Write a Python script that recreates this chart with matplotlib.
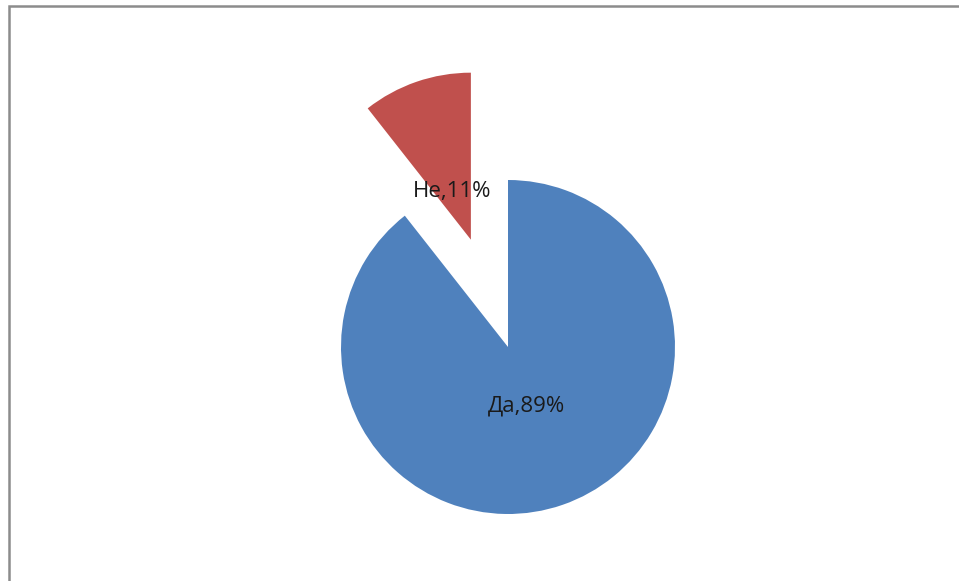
import matplotlib
matplotlib.use("Agg")
from matplotlib import pyplot as plt
from matplotlib.patches import Rectangle

labels = ["Да", "Не"]
values = [89.4, 10.6]
colors = ["#4F81BD", "#C0504D"]
explode = [0, 0.68]


def make_label():
    """Build 'name,pct%' label strings in slice order"""
    it = iter(labels)

    def fmt(pct):
        return f"{next(it)},{pct:.0f}%"
    return fmt


W, H = 959, 581
cx, cy, r = 508, 347, 167  # pie centre and radius in pixels

fig = plt.figure(figsize=(W / 100, H / 100), dpi=100)
ax = fig.add_axes([0, 0, 1, 1])

wedges, texts, autotexts = ax.pie(
    values, colors=colors, explode=explode, startangle=90,
    counterclock=False, autopct=make_label(), pctdistance=0.34,
    wedgeprops={"linewidth": 0},
    textprops={"fontsize": 16, "family": ["Open Sans", "DejaVu Sans"],
               "color": "#1a1a1a"})

# labels sit a little lower in the original
for t in autotexts:
    x, y = t.get_position()
    t.set_position((x, y - 0.03))

ax.set_aspect("auto")
ax.set_xlim(-cx / r, (W - cx) / r)
ax.set_ylim(-(H - cy) / r, cy / r)
ax.axis("off")

# chart area frame (only left and top edges are visible in the crop)
fig.add_artist(Rectangle((9 / W, -0.1), 1.2, (H - 6) / H + 0.1,
                         transform=fig.transFigure, fill=False,
                         edgecolor="#8c8c8c", linewidth=1.8))

fig.savefig("out.png", dpi=100, facecolor="white")
